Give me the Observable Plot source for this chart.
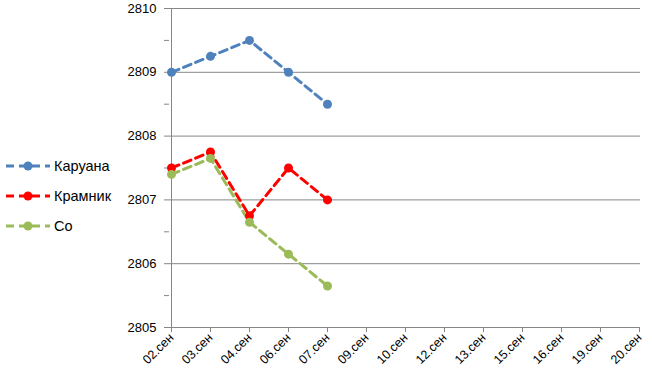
<!DOCTYPE html>
<html><head><meta charset="utf-8">
<script src="https://cdn.jsdelivr.net/npm/d3@7"></script>
<script src="https://cdn.jsdelivr.net/npm/@observablehq/plot@0.6"></script>
<style>
body{margin:0;background:#fff;font-family:"Liberation Sans",Arial,sans-serif;}
#wrap{position:relative;width:652px;height:385px;}
#legend{position:absolute;left:5px;top:151px;font-size:14.5px;}
.li{display:flex;align-items:center;height:30px;}
</style></head>
<body><div id="wrap"><div id="legend"></div></div>
<script>
const dates = ["02.сен","03.сен","04.сен","06.сен","07.сен","09.сен","10.сен","12.сен","13.сен","15.сен","16.сен","19.сен","20.сен"];
const played = ["02.сен","03.сен","04.сен","06.сен","07.сен"];
const seriesNames = ["Каруана","Крамник","Со"];
const caruana = [2809.0, 2809.25, 2809.5, 2809.0, 2808.5];
const kramnik = [2807.5, 2807.75, 2806.75, 2807.5, 2807.0];
const so = [2807.4, 2807.65, 2806.65, 2806.15, 2805.65];
const colors = ["#4F81BD","#FF0000","#9BBB59"];
const yTicks = d3.range(2805, 2810.01, 0.5);

const rows = [];
[caruana, kramnik, so].forEach((vals, i) => vals.forEach((v, j) => rows.push({name: seriesNames[i], date: played[j], value: v})));

const chart = Plot.plot({
  width: 652, height: 385,
  marginLeft: 169, marginRight: 12, marginTop: 8, marginBottom: 58,
  style: {fontFamily: "Liberation Sans, Arial, sans-serif", fontSize: "12px", color: "#000"},
  x: {type: "point", domain: dates, padding: 0, label: null},
  y: {domain: [2805, 2810], label: null},
  color: {domain: seriesNames, range: colors},
  marks: [
    Plot.gridY([2806,2807,2808,2809,2810], {stroke: "#868686", strokeOpacity: 1}),
    Plot.axisY({ticks: yTicks, tickSize: 5, stroke: "#868686", tickPadding: 8, fontSize: 13, label: null,
      tickFormat: d => Number.isInteger(d) ? String(d) : ""}),
    Plot.axisX({tickSize: 5, stroke: "#868686", tickRotate: -45, tickPadding: 3, fontSize: 12.5, label: null}),
    Plot.ruleX([dates[0]], {stroke: "#868686"}),
    Plot.ruleY([2805], {stroke: "#868686"}),
    Plot.line(rows, {x: "date", y: "value", z: "name", stroke: "name", strokeWidth: 3, strokeDasharray: "8,5"}),
    Plot.dot(rows, {x: "date", y: "value", fill: "name", r: 4.5})
  ]
});
document.getElementById("wrap").prepend(chart);

const leg = document.getElementById("legend");
seriesNames.forEach((n, i) => {
  const d = document.createElement("div");
  d.className = "li";
  d.innerHTML = `<svg width="46" height="14" style="margin-right:3px"><line x1="1" y1="7" x2="45" y2="7" stroke="${colors[i]}" stroke-width="3" stroke-dasharray="8,5"/><circle cx="23" cy="7" r="4.5" fill="${colors[i]}"/></svg><span>${n}</span>`;
  leg.appendChild(d);
});
</script></body></html>
